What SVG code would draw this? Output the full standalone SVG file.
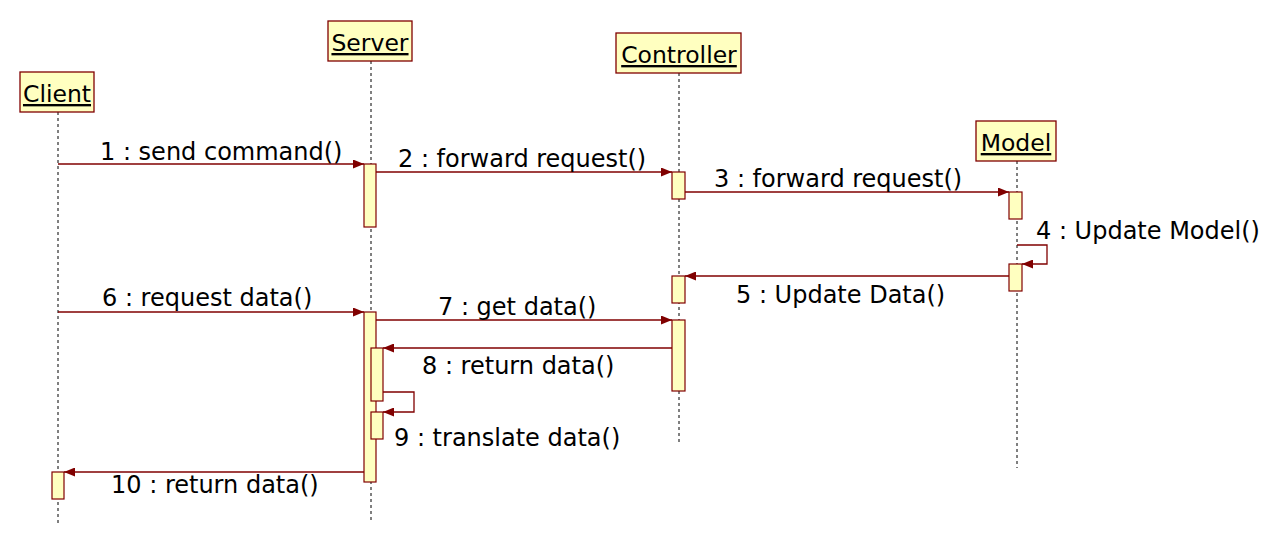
<svg xmlns="http://www.w3.org/2000/svg" width="1280" height="543" viewBox="0 0 1280 543">
<style>
.box{fill:#ffffc0;stroke:#800000;stroke-width:1.3}
.act{fill:#ffffc0;stroke:#800000;stroke-width:1.2}
.life{stroke:#000;stroke-width:1;stroke-dasharray:3,3;fill:none}
.msg{stroke:#800000;stroke-width:1.3;fill:none;marker-end:url(#ah)}
.t{font-family:"DejaVu Sans",Tahoma,sans-serif;font-size:24px;fill:#000}
.n{font-family:"DejaVu Sans",Tahoma,sans-serif;font-size:23.5px;fill:#000;text-anchor:middle;text-decoration:underline}
</style>
<defs>
<marker id="ah" markerUnits="userSpaceOnUse" markerWidth="12" markerHeight="9" refX="11" refY="4.5" orient="auto">
<path d="M0,0 L11,4.5 L0,9 z" fill="#800000"/>
</marker>
</defs>
<rect width="1280" height="543" fill="#fff"/>
<g id="client">
<line class="life" x1="58" y1="112" x2="58" y2="523"/>
<rect class="box" x="20" y="72" width="74" height="40"/>
<text class="n" x="57" y="102">Client</text>
<rect class="act" x="52" y="472" width="12" height="27"/>
</g>
<g id="server">
<line class="life" x1="371" y1="61" x2="371" y2="520"/>
<rect class="box" x="328" y="21" width="84" height="40"/>
<text class="n" x="370" y="51">Server</text>
<rect class="act" x="364" y="164" width="12" height="63"/>
<rect class="act" x="364" y="312" width="12" height="170"/>
<rect class="act" x="371" y="348" width="12" height="53"/>
<rect class="act" x="371" y="412" width="12" height="27"/>
</g>
<g id="controller">
<line class="life" x1="679" y1="73" x2="679" y2="442"/>
<rect class="box" x="616" y="33" width="125" height="40"/>
<text class="n" x="679" y="63">Controller</text>
<rect class="act" x="672" y="172" width="13" height="27"/>
<rect class="act" x="672" y="276" width="13" height="27"/>
<rect class="act" x="672" y="320" width="13" height="71"/>
</g>
<g id="model">
<line class="life" x1="1017" y1="161" x2="1017" y2="468"/>
<rect class="box" x="976" y="121" width="80" height="40"/>
<text class="n" x="1016" y="151">Model</text>
<rect class="act" x="1009" y="192" width="13" height="27"/>
<rect class="act" x="1009" y="264" width="13" height="27"/>
</g>
<g id="connectors">
<line class="msg" x1="58" y1="164" x2="364" y2="164"/>
<line class="msg" x1="376" y1="172" x2="672" y2="172"/>
<line class="msg" x1="685" y1="192" x2="1009" y2="192"/>
<polyline class="msg" points="1017,245 1047,245 1047,264 1022,264"/>
<line class="msg" x1="1009" y1="276" x2="685" y2="276"/>
<line class="msg" x1="58" y1="312" x2="364" y2="312"/>
<line class="msg" x1="376" y1="320" x2="672" y2="320"/>
<line class="msg" x1="672" y1="348" x2="383" y2="348"/>
<polyline class="msg" points="383,392 414,392 414,412 383,412"/>
<line class="msg" x1="364" y1="472" x2="64" y2="472"/>
<text class="t" x="100" y="160">1 : send command()</text>
<text class="t" x="398" y="167">2 : forward request()</text>
<text class="t" x="714" y="187">3 : forward request()</text>
<text class="t" x="1036" y="239">4 : Update Model()</text>
<text class="t" x="736" y="303">5 : Update Data()</text>
<text class="t" x="102" y="306">6 : request data()</text>
<text class="t" x="438" y="315">7 : get data()</text>
<text class="t" x="422" y="374">8 : return data()</text>
<text class="t" x="394" y="446">9 : translate data()</text>
<text class="t" x="111" y="493">10 : return data()</text>
</g>
</svg>
